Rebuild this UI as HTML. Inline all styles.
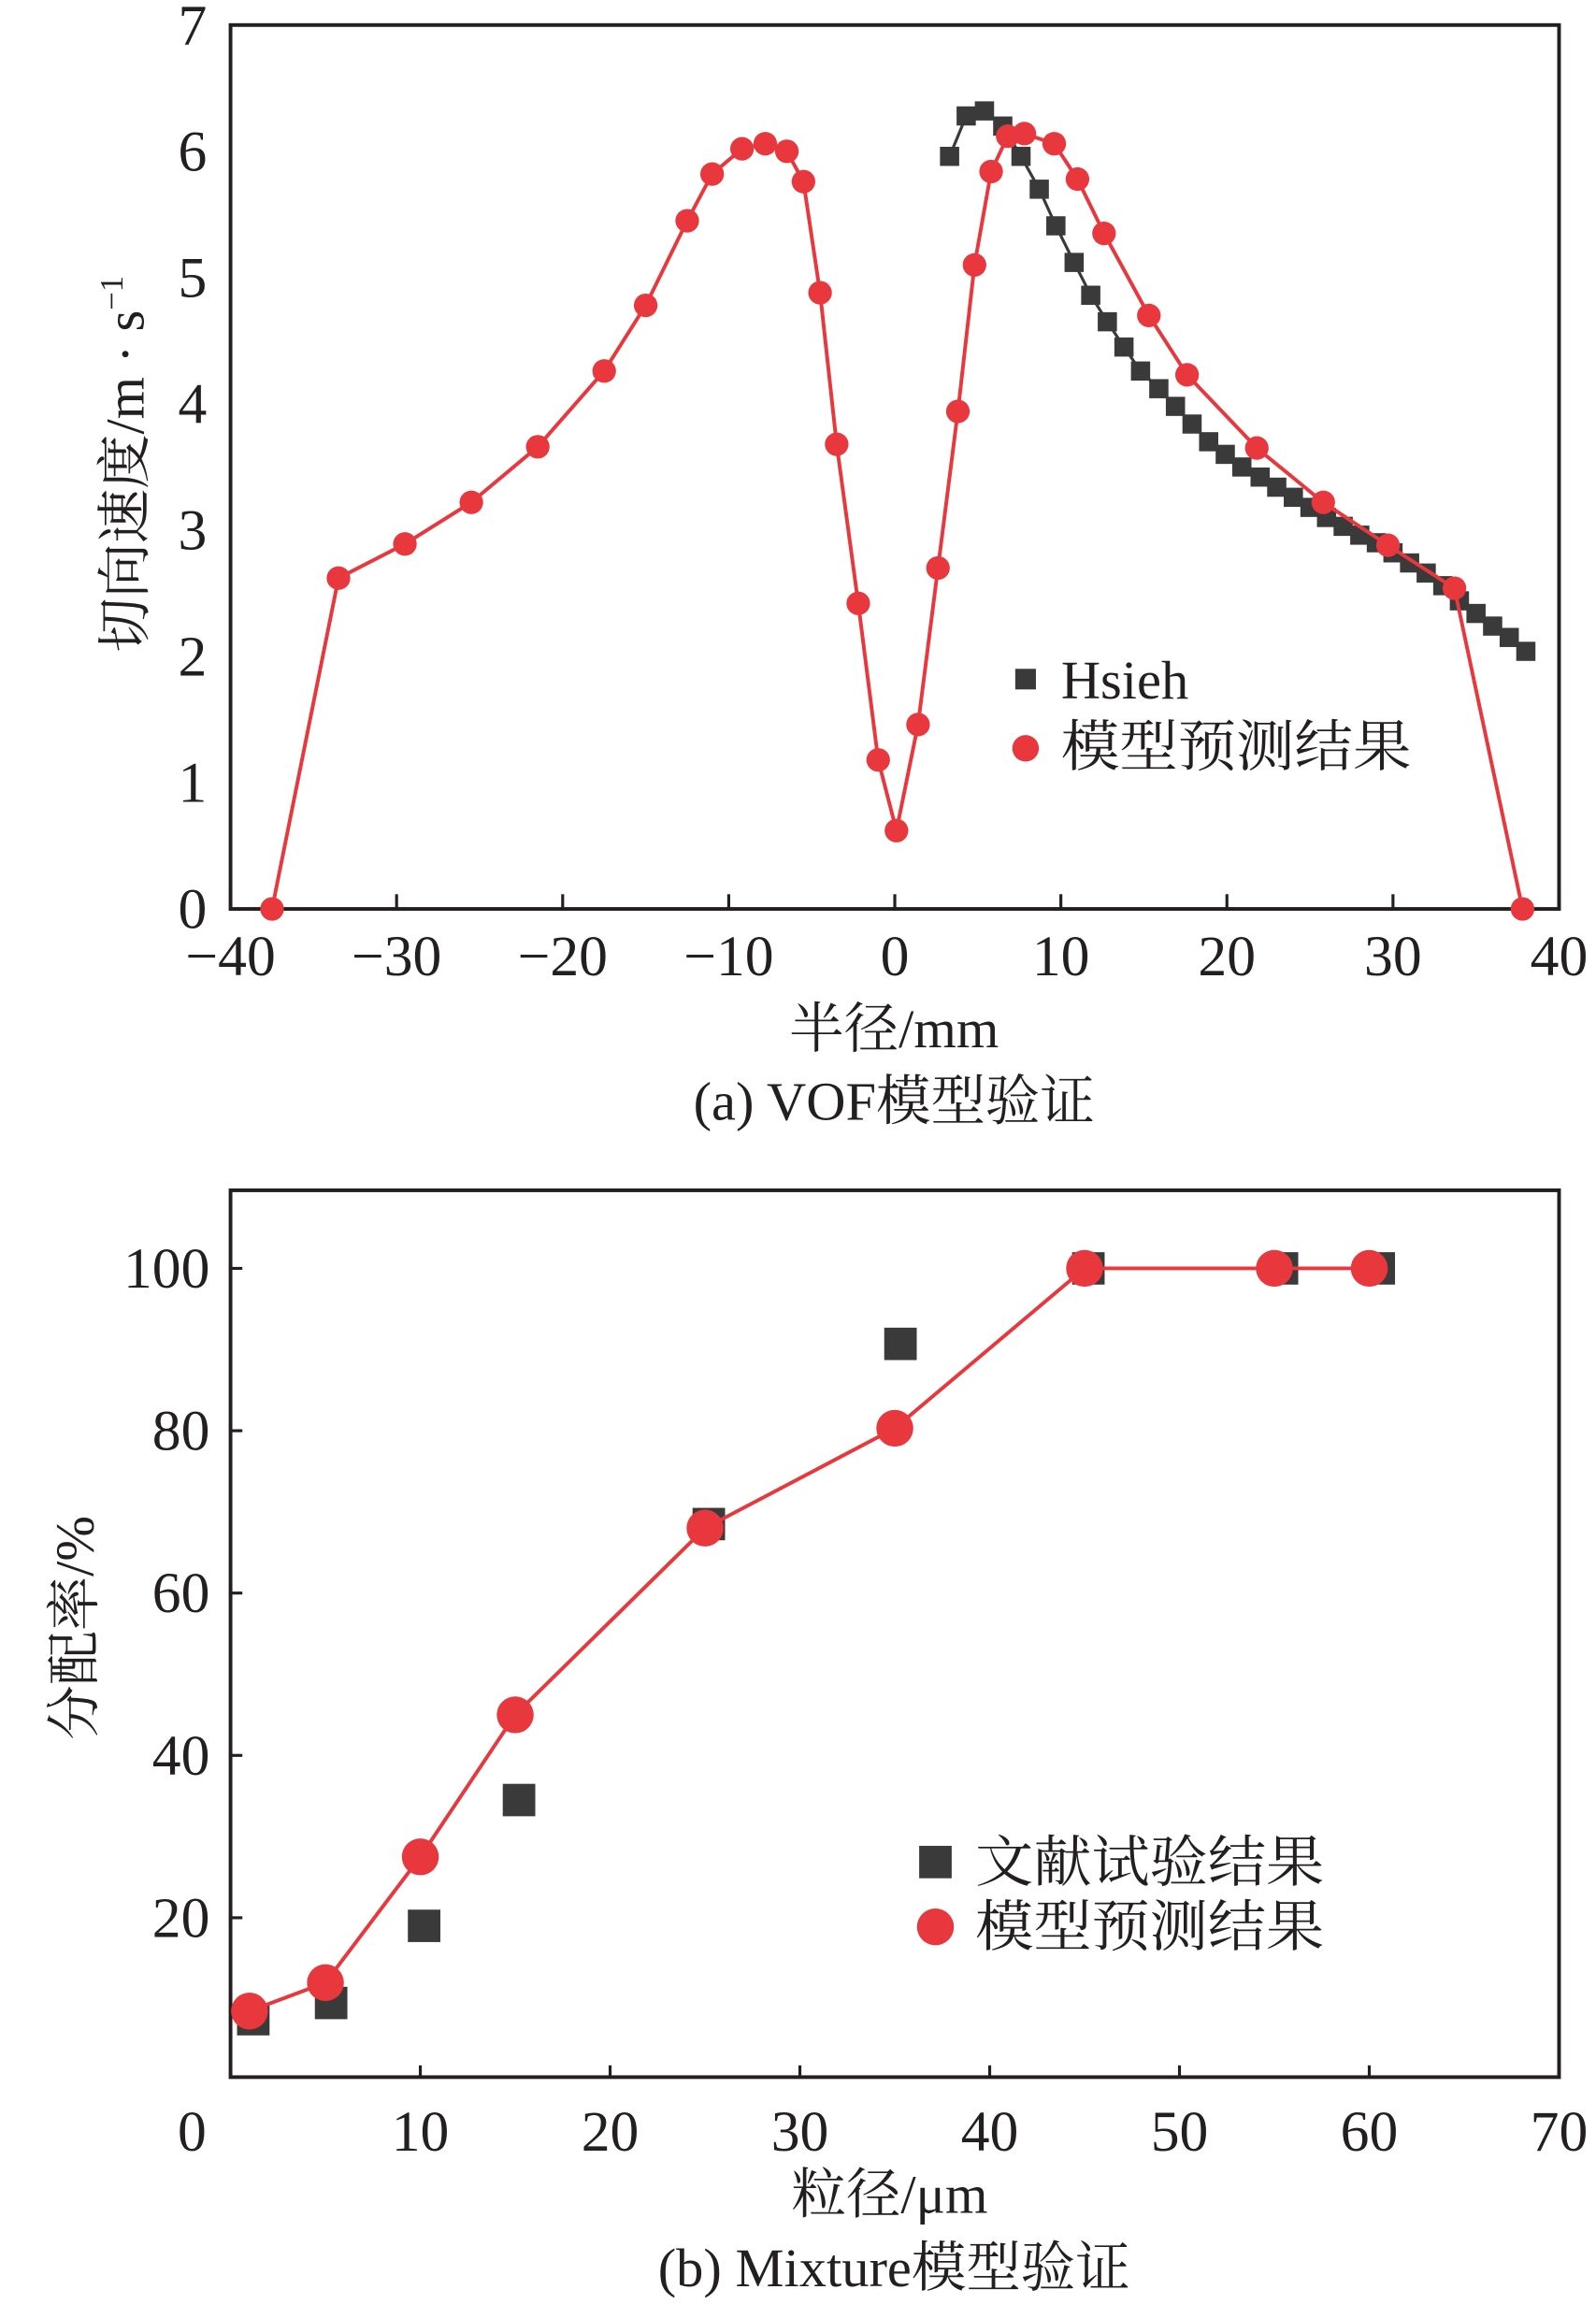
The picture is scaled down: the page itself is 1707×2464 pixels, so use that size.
<!DOCTYPE html>
<html><head><meta charset="utf-8"><style>
html,body{margin:0;padding:0;background:#fff}
svg{display:block}
text{font-family:"Liberation Serif","Noto Serif CJK SC",serif;fill:#231f20}
</style></head><body>
<svg id="chart" width="1707" height="2464" viewBox="0 0 1080 1564" preserveAspectRatio="none" xmlns="http://www.w3.org/2000/svg">
<g id="pa"></g>
<g id="pb"></g>
</svg>
<script>
// Chart (a)
const aXTicks = [-40,-30,-20,-10,0,10,20,30,40];
const aYTicks = [0,1,2,3,4,5,6,7];
const aModelX = [-37.5,-33.5,-29.5,-25.5,-21.5,-17.5,-15,-12.5,-11,-9.2,-7.8,-6.5,-5.5,-4.5,-3.5,-2.2,-1,0.1,1.4,2.6,3.8,4.8,5.8,6.8,7.8,9.6,11.0,12.6,15.3,17.6,21.8,25.8,29.7,33.7,37.8];
const aModelY = [0,2.62,2.89,3.22,3.66,4.26,4.78,5.45,5.82,6.02,6.06,6.0,5.76,4.88,3.68,2.42,1.18,0.62,1.46,2.70,3.94,5.10,5.84,6.12,6.14,6.06,5.78,5.35,4.70,4.23,3.65,3.22,2.88,2.54,0];
const aHsiehX = [3.3,4.3,5.4,6.5,7.6,8.7,9.7,10.8,11.8,12.8,13.8,14.8,15.9,16.9,17.9,18.9,19.9,20.9,22,23,24,25,26,27,28,29,30,31,32,33,34,35,36,37,38];
const aHsiehY = [5.96,6.28,6.32,6.2,5.96,5.7,5.41,5.12,4.86,4.65,4.45,4.26,4.12,3.98,3.84,3.7,3.6,3.5,3.42,3.34,3.26,3.18,3.1,3.03,2.96,2.9,2.82,2.74,2.66,2.56,2.44,2.34,2.24,2.15,2.04];
// Chart (b)
const bXTicks = [0,10,20,30,40,50,60,70];
const bYTicks = [20,40,60,80,100];
const bModelX = [1.0,5,10,15,25,35,45,55,60];
const bModelY = [8.5,12,27.5,45,68,80.3,100,100,100];
const bExpX = [1.2,5.3,10.2,15.2,25.2,35.3,45.2,55.4,60.5];
const bExpY = [7.5,9.5,19,34.5,68.5,90.7,100,100,100];

const NS='http://www.w3.org/2000/svg';
function mk(parent,tag,attrs,txt){const e=document.createElementNS(NS,tag);for(const k in attrs)e.setAttribute(k,attrs[k]);if(txt!==undefined)e.textContent=txt;parent.appendChild(e);return e;}

// ---- chart a
const pa=document.getElementById('pa');
const aL=156,aR=1055,aT=17,aB=617;
const ax=v=>aL+(v+40)/80*(aR-aL);
const ay=v=>aB-v/7*(aB-aT);
let f=mk(pa,'rect',{x:aL,y:aT,width:aR-aL,height:aB-aT,fill:'none',stroke:'#231f20','stroke-width':2.5});


aXTicks.forEach(t=>{
  let l=mk(pa,'line',{x1:ax(t),x2:ax(t),y1:aB,y2:aB-10,stroke:'#231f20','stroke-width':2});
  
  
  let s=mk(pa,'text',{x:ax(t),y:662,'text-anchor':'middle','font-size':39},(t<0?'\u2212':'')+Math.abs(t));
  
  
});
aYTicks.forEach(t=>{
  let s=mk(pa,'text',{x:140,y:ay(t)+13,'text-anchor':'end','font-size':39},t);
  
  
});
let ha=mk(pa,'polyline',{points:aHsiehX.map((v,i)=>ax(v)+','+ay(aHsiehY[i])).join(' '),fill:'none',stroke:'#3a3a3a','stroke-width':2});


aHsiehX.forEach((v,i)=>{
  let r=mk(pa,'rect',{x:ax(v)-6.5,y:ay(aHsiehY[i])-6.5,width:13,height:13,fill:'#3a3a3a'});
  
  
});
let ma=mk(pa,'polyline',{points:aModelX.map((v,i)=>ax(v)+','+ay(aModelY[i])).join(' '),fill:'none',stroke:'#e8383d','stroke-width':2.5});


aModelX.forEach((v,i)=>{
  let c=mk(pa,'circle',{cx:ax(v),cy:ay(aModelY[i]),r:8,fill:'#e8383d'});
  
  
});
let lg=mk(pa,'g',{});


let q=mk(lg,'rect',{x:687,y:454,width:14,height:14,fill:'#3a3a3a'});


let t1=mk(lg,'text',{x:718,y:474,'font-size':37},'Hsieh');


let c1=mk(lg,'circle',{cx:694,cy:508,r:9,fill:'#e8383d'});


let t2=mk(lg,'text',{x:718,y:520,'font-size':38,textLength:237,lengthAdjust:'spacingAndGlyphs'},'模型预测结果');


let xt=mk(pa,'text',{x:605,y:711,'text-anchor':'middle','font-size':37},'半径/mm');


let ca=mk(pa,'text',{x:605,y:760,'text-anchor':'middle','font-size':37},'(a) VOF模型验证');


let yt=mk(pa,'text',{x:0,y:0,'text-anchor':'middle','font-size':37,transform:'translate(97,315) rotate(-90)'});


yt.innerHTML='切向速度/m · s<tspan dy="-14" font-size="22">−1</tspan>';

// ---- chart b
const pb=document.getElementById('pb');
const bL=156,bR=1055,bT=808,bB=1410;
const bx=v=>bL+v/70*(bR-bL);
const by=v=>1412-v*(1412-861)/100;
f=mk(pb,'rect',{x:bL,y:bT,width:bR-bL,height:bB-bT,fill:'none',stroke:'#231f20','stroke-width':2.5});


bXTicks.forEach(t=>{
  if(t>0&&t<70){let l=mk(pb,'line',{x1:bx(t),x2:bx(t),y1:bB,y2:bB-8,stroke:'#231f20','stroke-width':2});
  
  }
  let s=mk(pb,'text',{x:t===0?130:bx(t),y:1460,'text-anchor':'middle','font-size':39},t);
  
  
});
bYTicks.forEach(t=>{
  let l=mk(pb,'line',{x1:bL,x2:bL+8,y1:by(t),y2:by(t),stroke:'#231f20','stroke-width':2});
  
  
  let s=mk(pb,'text',{x:142,y:by(t)+13,'text-anchor':'end','font-size':39},t);
  
  
});
bExpX.forEach((v,i)=>{
  let r=mk(pb,'rect',{x:bx(v)-11,y:by(bExpY[i])-11,width:22,height:22,fill:'#3a3a3a'});
  
  
});
let mb=mk(pb,'polyline',{points:bModelX.map((v,i)=>bx(v)+','+by(bModelY[i])).join(' '),fill:'none',stroke:'#e8383d','stroke-width':2.5});


bModelX.forEach((v,i)=>{
  let c=mk(pb,'circle',{cx:bx(v),cy:by(bModelY[i]),r:12.5,fill:'#e8383d'});
  
  
});
lg=mk(pb,'g',{});


q=mk(lg,'rect',{x:622,y:1253,width:22,height:22,fill:'#3a3a3a'});


t1=mk(lg,'text',{x:660,y:1277,'font-size':38,textLength:236,lengthAdjust:'spacingAndGlyphs'},'文献试验结果');


c1=mk(lg,'circle',{cx:633,cy:1308,r:12.5,fill:'#e8383d'});


t2=mk(lg,'text',{x:660,y:1321,'font-size':38,textLength:236,lengthAdjust:'spacingAndGlyphs'},'模型预测结果');


xt=mk(pb,'text',{x:602,y:1502,'text-anchor':'middle','font-size':37},'粒径/μm');


ca=mk(pb,'text',{x:605,y:1552,'text-anchor':'middle','font-size':37},'(b) Mixture模型验证');


yt=mk(pb,'text',{x:0,y:0,'text-anchor':'middle','font-size':37,transform:'translate(63,1105) rotate(-90)'},'分配率/%');


</script>
</body></html>
